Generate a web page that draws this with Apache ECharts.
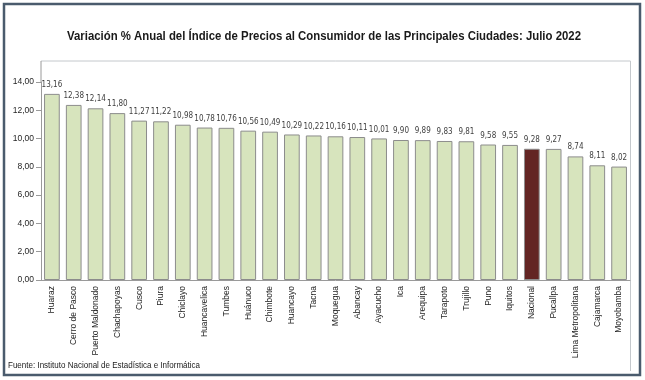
<!DOCTYPE html>
<html>
<head>
<meta charset="utf-8">
<script src="https://cdn.jsdelivr.net/npm/echarts@6/dist/echarts.min.js"></script>
<style>
html,body{margin:0;padding:0;background:#fff;}
#c{width:645px;height:380px;}
</style>
</head>
<body>
<div id="c"></div>
<script>
const cities = ["Huaraz","Cerro de Pasco","Puerto Maldonado","Chachapoyas","Cusco","Piura","Chiclayo","Huancavelica","Tumbes","Huánuco","Chimbote","Huancayo","Tacna","Moquegua","Abancay","Ayacucho","Ica","Arequipa","Tarapoto","Trujillo","Puno","Iquitos","Nacional","Pucallpa","Lima Metropolitana","Cajamarca","Moyobamba"];
const values = [13.16,12.38,12.14,11.80,11.27,11.22,10.98,10.78,10.76,10.56,10.49,10.29,10.22,10.16,10.11,10.01,9.90,9.89,9.83,9.81,9.58,9.55,9.28,9.27,8.74,8.11,8.02];
const highlight = "Nacional";
const titleText = "Variación % Anual del Índice de Precios al Consumidor de las Principales Ciudades: Julio 2022";
const sourceText = "Fuente: Instituto Nacional de Estadística e Informática";

const fmt = v => v.toFixed(2).replace('.', ',');
const ctx = document.createElement('canvas').getContext('2d');
function widthOf(t, font){ ctx.font = font; return ctx.measureText(t).width; }
const titleFont = 'bold 12.5px "Liberation Sans"';
const titleW = widthOf(titleText, titleFont);
const titleScale = 514 / titleW;
const srcFont = '9px "Liberation Sans"';
const srcScale = 192 / widthOf(sourceText, srcFont);

const chart = echarts.init(document.getElementById('c'), null, {renderer:'canvas'});
chart.setOption({
  animation:false,
  backgroundColor:'#ffffff',
  grid:{left:41, right:15, top:82, bottom:100},
  xAxis:{
    type:'category', data:cities,
    axisLine:{lineStyle:{color:'#9a9a9a'}},
    axisTick:{show:false},
    axisLabel:{rotate:90, interval:0, margin:6, fontFamily:'Liberation Sans', fontSize:8.5, color:'#262626'}
  },
  yAxis:{
    type:'value', min:0, max:14, interval:2,
    axisLine:{show:true, lineStyle:{color:'#9a9a9a'}},
    axisTick:{show:true, length:5, lineStyle:{color:'#9a9a9a'}},
    splitLine:{show:false},
    axisLabel:{formatter:v=>fmt(v), margin:7, fontFamily:'Liberation Sans', fontSize:8.5, color:'#262626'}
  },
  series:[{
    type:'bar',
    data:values.map((v,i)=>({value:v, itemStyle:{color: cities[i]===highlight ? '#632523' : '#d7e4bd'}})),
    barCategoryGap:'28%',
    itemStyle:{borderColor:'#8c8c8c', borderWidth:1},
    label:{show:true, position:'top', distance:5, formatter:p=>fmt(p.value), fontFamily:'DejaVu Sans Condensed', fontSize:8, color:'#404040'}
  }],
  graphic:[
    {type:'polyline', shape:{points:[[41,61],[630.5,61],[630.5,371]]}, style:{stroke:'#c4c8cc', lineWidth:1, fill:null}},
    {type:'line', shape:{x1:41,y1:61,x2:41,y2:82}, style:{stroke:'#9a9a9a', lineWidth:1}},
    {type:'rect', shape:{x:4,y:4,width:636,height:371}, style:{stroke:'#4a5b6d', lineWidth:2.5, fill:null}},
    {type:'text', x:324, y:37, scaleX:titleScale, originX:0, style:{text:titleText, font:titleFont, fill:'#1a1a1a', textAlign:'center', textVerticalAlign:'middle'}},
    {type:'text', x:8, y:366, scaleX:srcScale, style:{text:sourceText, font:srcFont, fill:'#1a1a1a', textAlign:'left', textVerticalAlign:'middle'}}
  ]
});
</script>
</body>
</html>
